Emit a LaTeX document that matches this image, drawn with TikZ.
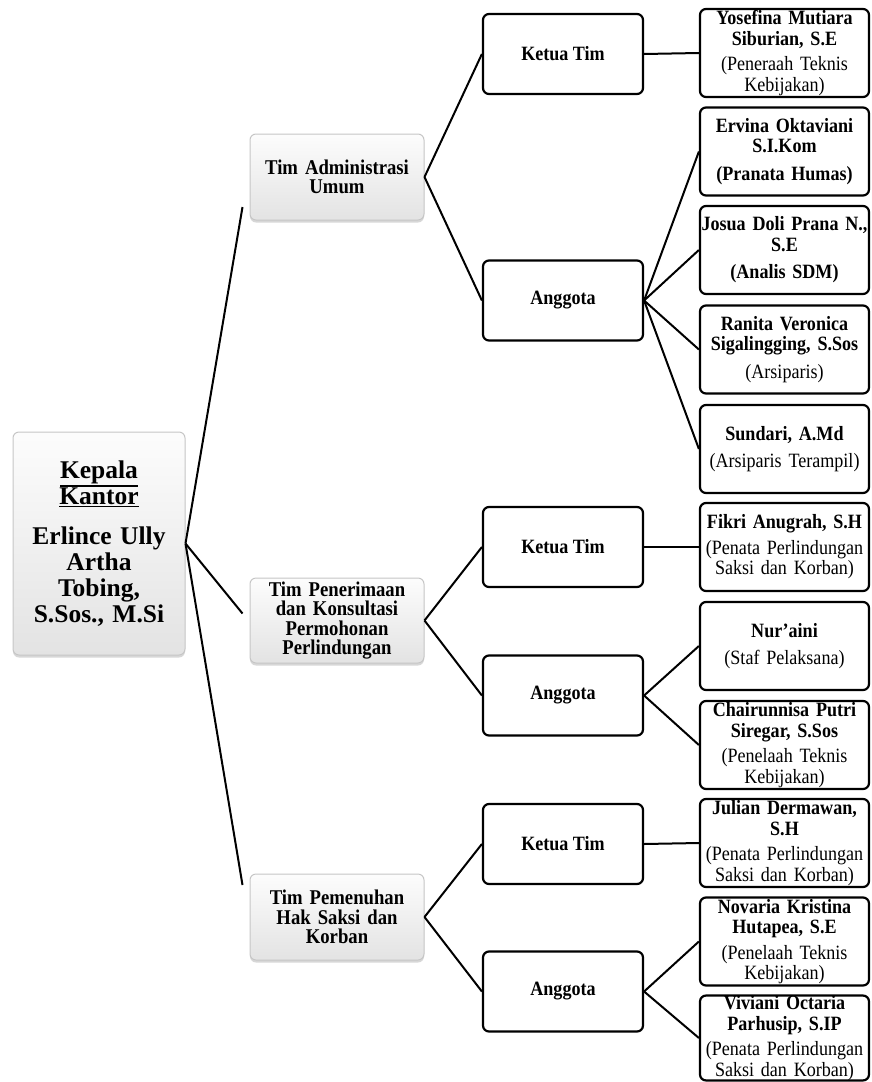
\documentclass[tikz,border=0pt]{standalone}
\usepackage{fontspec}
\setmainfont{Liberation Serif}[FakeStretch=0.89]
\newfontfamily\kepalafont{Liberation Serif}
\usetikzlibrary{shadows}

\newcommand{\garisbawah}[1]{\leavevmode\vtop{\hbox{#1}\kern1.2pt\hrule height1.6pt}}

\begin{document}
\begin{tikzpicture}[x=1pt, y=-1pt,
  kotak/.style={draw, line width=2.2pt, rounded corners=6pt, fill=white, align=center, inner sep=0pt,
    font=\fontsize{20.3}{20.5}\selectfont\bfseries},
  jabatan/.style={kotak, minimum width=160pt, minimum height=80pt},
  pegawai/.style={kotak, minimum width=169pt, minimum height=88pt, text width=169pt},
  tim/.style={draw=gray!45, line width=1pt, rounded corners=6pt, top color=gray!2, bottom color=gray!22,
    drop shadow={shadow xshift=0pt, shadow yshift=-2.5pt, fill=gray!70, opacity=.45},
    align=center, inner sep=0pt, minimum width=174pt, minimum height=86pt, text width=170pt,
    font=\fontsize{21}{19.5}\selectfont\bfseries},
  garis/.style={line width=2pt}]
\useasboundingbox (0,0) rectangle (871,1082);

\node [tim, name=kepala, minimum width=172pt, minimum height=223pt, text width=168pt,
  font=\kepalafont\fontsize{25.5}{26}\selectfont\bfseries] at (99,543.5)
  {\garisbawah{Kepala}\\\garisbawah{Kantor}\\[14pt]Erlince Ully\\Artha\\Tobing,\\S.Sos., M.Si};

\node [tim, name=timadm] at (337,177) {Tim Administrasi\\Umum};
\node [tim, name=timkon, minimum height=85pt] at (337,620.5) {Tim Penerimaan\\dan Konsultasi\\Permohonan\\Perlindungan};
\node [tim, name=timhak] at (337,917) {Tim Pemenuhan\\Hak Saksi dan\\Korban};

\coordinate (masukadm) at ([xshift=-7pt, yshift=-30pt]timadm.west);
\coordinate (masukkon) at ([xshift=-7pt, yshift=7pt]timkon.west);
\coordinate (masukhak) at ([xshift=-7pt, yshift=32pt]timhak.west);

\node [jabatan, name=ketuaadm] at (563,54) {Ketua Tim};
\node [jabatan, name=anggotaadm] at (563,300.5) {Anggota};
\node [jabatan, name=ketuakon] at (563,547) {Ketua Tim};
\node [jabatan, name=anggotakon] at (563,695.5) {Anggota};
\node [jabatan, name=ketuahak] at (563,844) {Ketua Tim};
\node [jabatan, name=anggotahak] at (563,991.5) {Anggota};

\node [pegawai, name=yosefina] at (784.5,53) {Yosefina Mutiara\\Siburian, S.E\\[5pt]\mdseries(Peneraah Teknis\\Kebijakan)};
\node [pegawai, name=ervina] at (784.5,151.5) {Ervina Oktaviani\\S.I.Kom\\[7pt](Pranata Humas)};
\node [pegawai, name=josua] at (784.5,250) {Josua Doli Prana N.,\\S.E\\[7pt](Analis SDM)};
\node [pegawai, name=ranita] at (784.5,349.5) {Ranita Veronica\\Sigalingging, S.Sos\\[7pt]\mdseries(Arsiparis)};
\node [pegawai, name=sundari] at (784.5,449) {Sundari, A.Md\\[7pt]\mdseries(Arsiparis Terampil)};
\node [pegawai, name=fikri] at (784.5,547) {Fikri Anugrah, S.H\\[5pt]\mdseries(Penata Perlindungan\\Saksi dan Korban)};
\node [pegawai, name=nuraini] at (784.5,646) {Nur’aini\\[7pt]\mdseries(Staf Pelaksana)};
\node [pegawai, name=chairunnisa] at (784.5,745) {Chairunnisa Putri\\Siregar, S.Sos\\[5pt]\mdseries(Penelaah Teknis\\Kebijakan)};
\node [pegawai, name=julian] at (784.5,843) {Julian Dermawan,\\S.H\\[5pt]\mdseries(Penata Perlindungan\\Saksi dan Korban)};
\node [pegawai, name=novaria] at (784.5,941.5) {Novaria Kristina\\Hutapea, S.E\\[5pt]\mdseries(Penelaah Teknis\\Kebijakan)};
\node [pegawai, name=viviani, minimum height=84pt] at (784.5,1038) {Viviani Octaria\\Parhusip, S.IP\\[5pt]\mdseries(Penata Perlindungan\\Saksi dan Korban)};

\draw [garis] (kepala.east) -- (masukadm);
\draw [garis] (kepala.east) -- (masukkon);
\draw [garis] (kepala.east) -- (masukhak);

\draw [garis] (timadm.east) -- (ketuaadm.west);
\draw [garis] (timadm.east) -- (anggotaadm.west);
\draw [garis] (timkon.east) -- (ketuakon.west);
\draw [garis] (timkon.east) -- (anggotakon.west);
\draw [garis] (timhak.east) -- (ketuahak.west);
\draw [garis] (timhak.east) -- (anggotahak.west);

\draw [garis] (ketuaadm.east) -- (yosefina.west);
\foreach \p in {ervina,josua,ranita,sundari}
  \draw [garis] (anggotaadm.east) -- (\p.west);
\draw [garis] (ketuakon.east) -- (fikri.west);
\foreach \p in {nuraini,chairunnisa}
  \draw [garis] (anggotakon.east) -- (\p.west);
\draw [garis] (ketuahak.east) -- (julian.west);
\foreach \p in {novaria,viviani}
  \draw [garis] (anggotahak.east) -- (\p.west);
\end{tikzpicture}
\end{document}
